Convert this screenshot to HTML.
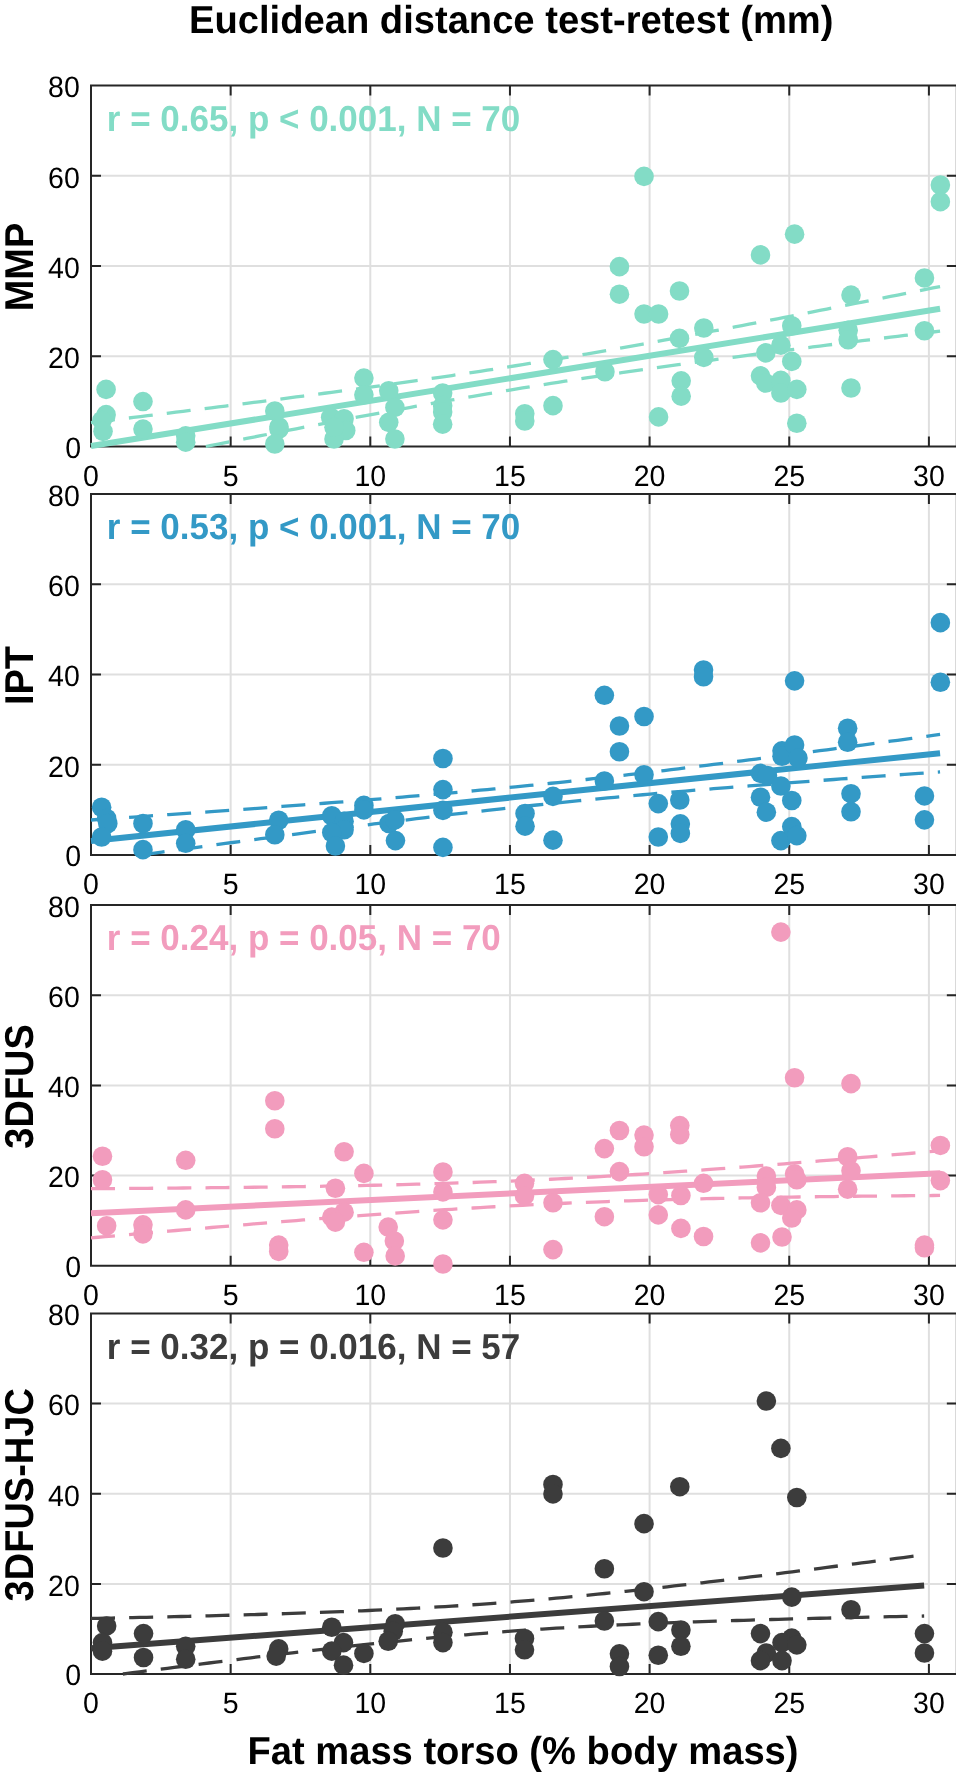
<!DOCTYPE html><html><head><meta charset="utf-8"><style>html,body{margin:0;padding:0;background:#fff;}svg{display:block;}#w{will-change:transform;}text{font-family:"Liberation Sans",sans-serif;text-rendering:geometricPrecision;}</style></head><body>
<div id="w">
<svg width="956" height="1778" viewBox="0 0 956 1778">
<rect width="956" height="1778" fill="#fff"/>
<text transform="translate(511.25,33) scale(1.0,1.02)" font-size="38.15" font-weight="bold" text-anchor="middle" fill="#000">Euclidean distance test-retest (mm)</text>
<text transform="translate(523,1764) scale(1.0,1.02)" font-size="38.15" font-weight="bold" text-anchor="middle" fill="#000">Fat mass torso (% body mass)</text>
<text transform="translate(33,267) rotate(-90) scale(1.0,1.06)" font-size="38" font-weight="bold" text-anchor="middle" fill="#000">MMP</text>
<path d="M230.65 85.5V446.5M370.3 85.5V446.5M509.95 85.5V446.5M649.6 85.5V446.5M789.25 85.5V446.5M928.9 85.5V446.5M91 356.25H956.83M91 266H956.83M91 175.75H956.83" stroke="#dfdfdf" stroke-width="2.0" fill="none"/>
<text transform="translate(106.8,130.5) scale(1.0,1.03)" font-size="35" font-weight="bold" fill="#83dcc6">r = 0.65, p &lt; 0.001, N = 70</text>
<path d="M91 85.5H956.83V446.5H91ZM230.65 446.5v-9.0M230.65 85.5v9.0M370.3 446.5v-9.0M370.3 85.5v9.0M509.95 446.5v-9.0M509.95 85.5v9.0M649.6 446.5v-9.0M649.6 85.5v9.0M789.25 446.5v-9.0M789.25 85.5v9.0M928.9 446.5v-9.0M928.9 85.5v9.0M91 356.25h9.0M956.83 356.25h-9.0M91 266h9.0M956.83 266h-9.0M91 175.75h9.0M956.83 175.75h-9.0M956.83 85.5h-9.0M956.83 446.5h-9.0M91 85.5h9.0M91 446.5h9.0" stroke="#262626" stroke-width="2.0" fill="none" stroke-linecap="square"/>
<text transform="translate(81,457.5) scale(1.0,1.035)" font-size="28.5" text-anchor="end" fill="#000">0</text>
<text transform="translate(79.8,368.05) scale(1.0,1.035)" font-size="28.5" text-anchor="end" fill="#000">20</text>
<text transform="translate(79.8,277.8) scale(1.0,1.035)" font-size="28.5" text-anchor="end" fill="#000">40</text>
<text transform="translate(79.8,187.55) scale(1.0,1.035)" font-size="28.5" text-anchor="end" fill="#000">60</text>
<text transform="translate(79.8,97.3) scale(1.0,1.035)" font-size="28.5" text-anchor="end" fill="#000">80</text>
<text transform="translate(91,485.5) scale(1.0,1.035)" font-size="28.5" text-anchor="middle" fill="#000">0</text>
<text transform="translate(230.65,485.5) scale(1.0,1.035)" font-size="28.5" text-anchor="middle" fill="#000">5</text>
<text transform="translate(370.3,485.5) scale(1.0,1.035)" font-size="28.5" text-anchor="middle" fill="#000">10</text>
<text transform="translate(509.95,485.5) scale(1.0,1.035)" font-size="28.5" text-anchor="middle" fill="#000">15</text>
<text transform="translate(649.6,485.5) scale(1.0,1.035)" font-size="28.5" text-anchor="middle" fill="#000">20</text>
<text transform="translate(789.25,485.5) scale(1.0,1.035)" font-size="28.5" text-anchor="middle" fill="#000">25</text>
<text transform="translate(928.9,485.5) scale(1.0,1.035)" font-size="28.5" text-anchor="middle" fill="#000">30</text>
<path d="M91 446.05L940.07 308.83" stroke="#83dcc6" stroke-width="6.0" fill="none"/>
<path d="M91 422.62L98.08 421.76L105.15 420.9L112.23 420.04L119.3 419.17L126.38 418.31L133.45 417.44L140.53 416.57L147.6 415.71L154.68 414.83L161.76 413.96L168.83 413.09L175.91 412.21L182.98 411.33L190.06 410.45L197.13 409.57L204.21 408.69L211.29 407.8L218.36 406.92L225.44 406.03L232.51 405.13L239.59 404.24L246.66 403.34L253.74 402.44L260.81 401.54L267.89 400.63L274.97 399.72L282.04 398.81L289.12 397.9L296.19 396.98L303.27 396.05L310.34 395.13L317.42 394.2L324.49 393.26L331.57 392.32L338.65 391.38L345.72 390.43L352.8 389.48L359.87 388.52L366.95 387.56L374.02 386.59L381.1 385.61L388.18 384.63L395.25 383.65L402.33 382.66L409.4 381.66L416.48 380.65L423.55 379.64L430.63 378.62L437.7 377.59L444.78 376.56L451.86 375.51L458.93 374.46L466.01 373.4L473.08 372.34L480.16 371.26L487.23 370.18L494.31 369.08L501.38 367.98L508.46 366.87L515.54 365.75L522.61 364.62L529.69 363.48L536.76 362.33L543.84 361.17L550.91 360.01L557.99 358.83L565.07 357.65L572.14 356.45L579.22 355.25L586.29 354.04L593.37 352.82L600.44 351.59L607.52 350.36L614.59 349.11L621.67 347.86L628.75 346.6L635.82 345.34L642.9 344.06L649.97 342.78L657.05 341.49L664.12 340.2L671.2 338.9L678.27 337.59L685.35 336.28L692.43 334.96L699.5 333.64L706.58 332.31L713.65 330.97L720.73 329.64L727.8 328.29L734.88 326.94L741.96 325.59L749.03 324.23L756.11 322.87L763.18 321.51L770.26 320.14L777.33 318.77L784.41 317.4L791.48 316.02L798.56 314.64L805.64 313.25L812.71 311.87L819.79 310.48L826.86 309.09L833.94 307.69L841.01 306.29L848.09 304.9L855.16 303.49L862.24 302.09L869.32 300.68L876.39 299.28L883.47 297.87L890.54 296.46L897.62 295.04L904.69 293.63L911.77 292.21L918.85 290.8L925.92 289.38L933 287.96L940.07 286.53" stroke="#83dcc6" stroke-width="3.3" stroke-dasharray="24.0 14.17" fill="none"/>
<path d="M205.8 446.5L211.29 445.41L218.36 444.01L225.44 442.62L232.51 441.22L239.59 439.83L246.66 438.44L253.74 437.05L260.81 435.67L267.89 434.29L274.97 432.91L282.04 431.54L289.12 430.17L296.19 428.8L303.27 427.43L310.34 426.07L317.42 424.72L324.49 423.36L331.57 422.02L338.65 420.67L345.72 419.33L352.8 418L359.87 416.67L366.95 415.35L374.02 414.03L381.1 412.71L388.18 411.41L395.25 410.11L402.33 408.81L409.4 407.52L416.48 406.24L423.55 404.97L430.63 403.7L437.7 402.44L444.78 401.19L451.86 399.95L458.93 398.71L466.01 397.48L473.08 396.26L480.16 395.05L487.23 393.85L494.31 392.66L501.38 391.47L508.46 390.29L515.54 389.13L522.61 387.97L529.69 386.82L536.76 385.68L543.84 384.55L550.91 383.43L557.99 382.32L565.07 381.22L572.14 380.13L579.22 379.04L586.29 377.96L593.37 376.9L600.44 375.84L607.52 374.79L614.59 373.74L621.67 372.71L628.75 371.68L635.82 370.66L642.9 369.65L649.97 368.64L657.05 367.64L664.12 366.65L671.2 365.66L678.27 364.68L685.35 363.71L692.43 362.74L699.5 361.78L706.58 360.82L713.65 359.87L720.73 358.92L727.8 357.97L734.88 357.04L741.96 356.1L749.03 355.17L756.11 354.24L763.18 353.32L770.26 352.4L777.33 351.49L784.41 350.57L791.48 349.66L798.56 348.76L805.64 347.85L812.71 346.95L819.79 346.06L826.86 345.16L833.94 344.27L841.01 343.38L848.09 342.49L855.16 341.61L862.24 340.72L869.32 339.84L876.39 338.96L883.47 338.08L890.54 337.21L897.62 336.33L904.69 335.46L911.77 334.59L918.85 333.72L925.92 332.85L933 331.99L940.07 331.12" stroke="#83dcc6" stroke-width="3.3" stroke-dasharray="24.0 14.17" fill="none"/>
<circle cx="106.1" cy="389.39" r="9.8" fill="#83dcc6"/>
<circle cx="106.1" cy="414.66" r="9.8" fill="#83dcc6"/>
<circle cx="101.91" cy="420.53" r="9.8" fill="#83dcc6"/>
<circle cx="103.03" cy="431.36" r="9.8" fill="#83dcc6"/>
<circle cx="142.97" cy="401.57" r="9.8" fill="#83dcc6"/>
<circle cx="142.97" cy="429.1" r="9.8" fill="#83dcc6"/>
<circle cx="185.7" cy="435.87" r="9.8" fill="#83dcc6"/>
<circle cx="185.7" cy="442.19" r="9.8" fill="#83dcc6"/>
<circle cx="274.8" cy="411.05" r="9.8" fill="#83dcc6"/>
<circle cx="278.99" cy="426.84" r="9.8" fill="#83dcc6"/>
<circle cx="278.99" cy="429.1" r="9.8" fill="#83dcc6"/>
<circle cx="274.8" cy="443.99" r="9.8" fill="#83dcc6"/>
<circle cx="330.66" cy="417.37" r="9.8" fill="#83dcc6"/>
<circle cx="344.07" cy="418.72" r="9.8" fill="#83dcc6"/>
<circle cx="345.74" cy="430.45" r="9.8" fill="#83dcc6"/>
<circle cx="334.01" cy="439.03" r="9.8" fill="#83dcc6"/>
<circle cx="334.01" cy="427.3" r="9.8" fill="#83dcc6"/>
<circle cx="363.9" cy="378.11" r="9.8" fill="#83dcc6"/>
<circle cx="363.9" cy="394.81" r="9.8" fill="#83dcc6"/>
<circle cx="388.75" cy="390.75" r="9.8" fill="#83dcc6"/>
<circle cx="394.9" cy="407.44" r="9.8" fill="#83dcc6"/>
<circle cx="388.75" cy="422.33" r="9.8" fill="#83dcc6"/>
<circle cx="394.9" cy="439.03" r="9.8" fill="#83dcc6"/>
<circle cx="442.66" cy="393" r="9.8" fill="#83dcc6"/>
<circle cx="442.66" cy="405.64" r="9.8" fill="#83dcc6"/>
<circle cx="442.66" cy="411.95" r="9.8" fill="#83dcc6"/>
<circle cx="442.66" cy="424.14" r="9.8" fill="#83dcc6"/>
<circle cx="524.77" cy="413.76" r="9.8" fill="#83dcc6"/>
<circle cx="524.77" cy="420.98" r="9.8" fill="#83dcc6"/>
<circle cx="552.98" cy="359.61" r="9.8" fill="#83dcc6"/>
<circle cx="552.98" cy="405.64" r="9.8" fill="#83dcc6"/>
<circle cx="604.93" cy="371.79" r="9.8" fill="#83dcc6"/>
<circle cx="619.46" cy="266.65" r="9.8" fill="#83dcc6"/>
<circle cx="619.46" cy="294.18" r="9.8" fill="#83dcc6"/>
<circle cx="644.03" cy="176.4" r="9.8" fill="#83dcc6"/>
<circle cx="644.03" cy="314.03" r="9.8" fill="#83dcc6"/>
<circle cx="658.56" cy="314.03" r="9.8" fill="#83dcc6"/>
<circle cx="658.56" cy="416.92" r="9.8" fill="#83dcc6"/>
<circle cx="679.51" cy="291.02" r="9.8" fill="#83dcc6"/>
<circle cx="679.51" cy="338.4" r="9.8" fill="#83dcc6"/>
<circle cx="681.18" cy="380.82" r="9.8" fill="#83dcc6"/>
<circle cx="681.18" cy="396.16" r="9.8" fill="#83dcc6"/>
<circle cx="703.8" cy="328.02" r="9.8" fill="#83dcc6"/>
<circle cx="703.8" cy="357.35" r="9.8" fill="#83dcc6"/>
<circle cx="760.5" cy="254.92" r="9.8" fill="#83dcc6"/>
<circle cx="760.5" cy="375.85" r="9.8" fill="#83dcc6"/>
<circle cx="765.81" cy="352.84" r="9.8" fill="#83dcc6"/>
<circle cx="765.81" cy="383.07" r="9.8" fill="#83dcc6"/>
<circle cx="780.89" cy="345.17" r="9.8" fill="#83dcc6"/>
<circle cx="780.89" cy="380.37" r="9.8" fill="#83dcc6"/>
<circle cx="780.89" cy="393" r="9.8" fill="#83dcc6"/>
<circle cx="791.78" cy="325.76" r="9.8" fill="#83dcc6"/>
<circle cx="791.78" cy="361.41" r="9.8" fill="#83dcc6"/>
<circle cx="794.58" cy="234.16" r="9.8" fill="#83dcc6"/>
<circle cx="796.81" cy="389.39" r="9.8" fill="#83dcc6"/>
<circle cx="796.81" cy="423.23" r="9.8" fill="#83dcc6"/>
<circle cx="851" cy="295.08" r="9.8" fill="#83dcc6"/>
<circle cx="848.2" cy="330.28" r="9.8" fill="#83dcc6"/>
<circle cx="848.2" cy="339.75" r="9.8" fill="#83dcc6"/>
<circle cx="851" cy="388.04" r="9.8" fill="#83dcc6"/>
<circle cx="924.45" cy="277.93" r="9.8" fill="#83dcc6"/>
<circle cx="924.45" cy="330.73" r="9.8" fill="#83dcc6"/>
<circle cx="940.37" cy="184.97" r="9.8" fill="#83dcc6"/>
<circle cx="940.37" cy="201.67" r="9.8" fill="#83dcc6"/>
<text transform="translate(33,675.5) rotate(-90) scale(1.0,1.06)" font-size="38" font-weight="bold" text-anchor="middle" fill="#000">IPT</text>
<path d="M230.65 494V855M370.3 494V855M509.95 494V855M649.6 494V855M789.25 494V855M928.9 494V855M91 764.75H956.83M91 674.5H956.83M91 584.25H956.83" stroke="#dfdfdf" stroke-width="2.0" fill="none"/>
<text transform="translate(106.8,539) scale(1.0,1.03)" font-size="35" font-weight="bold" fill="#3399c6">r = 0.53, p &lt; 0.001, N = 70</text>
<path d="M91 494H956.83V855H91ZM230.65 855v-9.0M230.65 494v9.0M370.3 855v-9.0M370.3 494v9.0M509.95 855v-9.0M509.95 494v9.0M649.6 855v-9.0M649.6 494v9.0M789.25 855v-9.0M789.25 494v9.0M928.9 855v-9.0M928.9 494v9.0M91 764.75h9.0M956.83 764.75h-9.0M91 674.5h9.0M956.83 674.5h-9.0M91 584.25h9.0M956.83 584.25h-9.0M956.83 494h-9.0M956.83 855h-9.0M91 494h9.0M91 855h9.0" stroke="#262626" stroke-width="2.0" fill="none" stroke-linecap="square"/>
<text transform="translate(81,866) scale(1.0,1.035)" font-size="28.5" text-anchor="end" fill="#000">0</text>
<text transform="translate(79.8,776.55) scale(1.0,1.035)" font-size="28.5" text-anchor="end" fill="#000">20</text>
<text transform="translate(79.8,686.3) scale(1.0,1.035)" font-size="28.5" text-anchor="end" fill="#000">40</text>
<text transform="translate(79.8,596.05) scale(1.0,1.035)" font-size="28.5" text-anchor="end" fill="#000">60</text>
<text transform="translate(79.8,505.8) scale(1.0,1.035)" font-size="28.5" text-anchor="end" fill="#000">80</text>
<text transform="translate(91,894) scale(1.0,1.035)" font-size="28.5" text-anchor="middle" fill="#000">0</text>
<text transform="translate(230.65,894) scale(1.0,1.035)" font-size="28.5" text-anchor="middle" fill="#000">5</text>
<text transform="translate(370.3,894) scale(1.0,1.035)" font-size="28.5" text-anchor="middle" fill="#000">10</text>
<text transform="translate(509.95,894) scale(1.0,1.035)" font-size="28.5" text-anchor="middle" fill="#000">15</text>
<text transform="translate(649.6,894) scale(1.0,1.035)" font-size="28.5" text-anchor="middle" fill="#000">20</text>
<text transform="translate(789.25,894) scale(1.0,1.035)" font-size="28.5" text-anchor="middle" fill="#000">25</text>
<text transform="translate(928.9,894) scale(1.0,1.035)" font-size="28.5" text-anchor="middle" fill="#000">30</text>
<path d="M91 840.92L940.07 753.19" stroke="#3399c6" stroke-width="6.0" fill="none"/>
<path d="M91 819.98L98.08 819.49L105.15 819.01L112.23 818.52L119.3 818.04L126.38 817.55L133.45 817.06L140.53 816.57L147.6 816.08L154.68 815.59L161.76 815.1L168.83 814.6L175.91 814.11L182.98 813.61L190.06 813.11L197.13 812.61L204.21 812.11L211.29 811.61L218.36 811.1L225.44 810.6L232.51 810.09L239.59 809.58L246.66 809.07L253.74 808.55L260.81 808.03L267.89 807.52L274.97 806.99L282.04 806.47L289.12 805.94L296.19 805.41L303.27 804.88L310.34 804.35L317.42 803.81L324.49 803.27L331.57 802.72L338.65 802.17L345.72 801.62L352.8 801.07L359.87 800.51L366.95 799.94L374.02 799.37L381.1 798.8L388.18 798.23L395.25 797.64L402.33 797.06L409.4 796.46L416.48 795.87L423.55 795.26L430.63 794.66L437.7 794.04L444.78 793.42L451.86 792.79L458.93 792.16L466.01 791.52L473.08 790.87L480.16 790.22L487.23 789.56L494.31 788.89L501.38 788.21L508.46 787.53L515.54 786.84L522.61 786.14L529.69 785.43L536.76 784.71L543.84 783.99L550.91 783.26L557.99 782.52L565.07 781.78L572.14 781.02L579.22 780.26L586.29 779.49L593.37 778.71L600.44 777.93L607.52 777.13L614.59 776.33L621.67 775.53L628.75 774.71L635.82 773.89L642.9 773.06L649.97 772.23L657.05 771.39L664.12 770.54L671.2 769.69L678.27 768.83L685.35 767.96L692.43 767.09L699.5 766.22L706.58 765.34L713.65 764.46L720.73 763.57L727.8 762.67L734.88 761.77L741.96 760.87L749.03 759.97L756.11 759.06L763.18 758.14L770.26 757.23L777.33 756.3L784.41 755.38L791.48 754.45L798.56 753.52L805.64 752.59L812.71 751.66L819.79 750.72L826.86 749.78L833.94 748.84L841.01 747.89L848.09 746.94L855.16 745.99L862.24 745.04L869.32 744.09L876.39 743.13L883.47 742.18L890.54 741.22L897.62 740.26L904.69 739.3L911.77 738.33L918.85 737.37L925.92 736.4L933 735.43L940.07 734.46" stroke="#3399c6" stroke-width="3.3" stroke-dasharray="24.0 14.17" fill="none"/>
<path d="M140.77 855L147.6 854.06L154.68 853.09L161.76 852.12L168.83 851.15L175.91 850.19L182.98 849.22L190.06 848.26L197.13 847.3L204.21 846.34L211.29 845.38L218.36 844.42L225.44 843.46L232.51 842.51L239.59 841.56L246.66 840.61L253.74 839.66L260.81 838.72L267.89 837.77L274.97 836.83L282.04 835.9L289.12 834.96L296.19 834.03L303.27 833.1L310.34 832.17L317.42 831.25L324.49 830.33L331.57 829.41L338.65 828.49L345.72 827.58L352.8 826.68L359.87 825.78L366.95 824.88L374.02 823.98L381.1 823.09L388.18 822.21L395.25 821.33L402.33 820.45L409.4 819.58L416.48 818.72L423.55 817.86L430.63 817.01L437.7 816.16L444.78 815.32L451.86 814.48L458.93 813.65L466.01 812.83L473.08 812.02L480.16 811.21L487.23 810.41L494.31 809.61L501.38 808.83L508.46 808.05L515.54 807.28L522.61 806.52L529.69 805.76L536.76 805.01L543.84 804.28L550.91 803.54L557.99 802.82L565.07 802.1L572.14 801.4L579.22 800.7L586.29 800.01L593.37 799.32L600.44 798.64L607.52 797.98L614.59 797.31L621.67 796.66L628.75 796.01L635.82 795.37L642.9 794.74L649.97 794.11L657.05 793.49L664.12 792.87L671.2 792.26L678.27 791.66L685.35 791.06L692.43 790.47L699.5 789.88L706.58 789.3L713.65 788.72L720.73 788.15L727.8 787.58L734.88 787.02L741.96 786.46L749.03 785.9L756.11 785.35L763.18 784.8L770.26 784.25L777.33 783.71L784.41 783.17L791.48 782.64L798.56 782.11L805.64 781.58L812.71 781.05L819.79 780.53L826.86 780L833.94 779.48L841.01 778.97L848.09 778.45L855.16 777.94L862.24 777.43L869.32 776.92L876.39 776.41L883.47 775.91L890.54 775.41L897.62 774.9L904.69 774.4L911.77 773.91L918.85 773.41L925.92 772.91L933 772.42L940.07 771.93" stroke="#3399c6" stroke-width="3.3" stroke-dasharray="24.0 14.17" fill="none"/>
<circle cx="101.63" cy="807.22" r="9.8" fill="#3399c6"/>
<circle cx="106.66" cy="818.5" r="9.8" fill="#3399c6"/>
<circle cx="107.78" cy="823.46" r="9.8" fill="#3399c6"/>
<circle cx="101.63" cy="837" r="9.8" fill="#3399c6"/>
<circle cx="142.97" cy="823.46" r="9.8" fill="#3399c6"/>
<circle cx="142.97" cy="849.63" r="9.8" fill="#3399c6"/>
<circle cx="185.7" cy="829.78" r="9.8" fill="#3399c6"/>
<circle cx="185.7" cy="843.32" r="9.8" fill="#3399c6"/>
<circle cx="278.71" cy="820.3" r="9.8" fill="#3399c6"/>
<circle cx="274.8" cy="834.74" r="9.8" fill="#3399c6"/>
<circle cx="331.78" cy="815.79" r="9.8" fill="#3399c6"/>
<circle cx="344.07" cy="821.21" r="9.8" fill="#3399c6"/>
<circle cx="344.07" cy="829.78" r="9.8" fill="#3399c6"/>
<circle cx="331.78" cy="832.49" r="9.8" fill="#3399c6"/>
<circle cx="335.41" cy="846.02" r="9.8" fill="#3399c6"/>
<circle cx="363.9" cy="805.41" r="9.8" fill="#3399c6"/>
<circle cx="363.9" cy="809.92" r="9.8" fill="#3399c6"/>
<circle cx="389.03" cy="823.46" r="9.8" fill="#3399c6"/>
<circle cx="394.9" cy="819.85" r="9.8" fill="#3399c6"/>
<circle cx="395.46" cy="840.61" r="9.8" fill="#3399c6"/>
<circle cx="442.94" cy="758.48" r="9.8" fill="#3399c6"/>
<circle cx="442.94" cy="789.62" r="9.8" fill="#3399c6"/>
<circle cx="442.94" cy="810.38" r="9.8" fill="#3399c6"/>
<circle cx="442.94" cy="847.38" r="9.8" fill="#3399c6"/>
<circle cx="525.05" cy="813.53" r="9.8" fill="#3399c6"/>
<circle cx="525.05" cy="826.17" r="9.8" fill="#3399c6"/>
<circle cx="552.98" cy="796.39" r="9.8" fill="#3399c6"/>
<circle cx="552.98" cy="840.16" r="9.8" fill="#3399c6"/>
<circle cx="604.37" cy="695.31" r="9.8" fill="#3399c6"/>
<circle cx="604.37" cy="781.04" r="9.8" fill="#3399c6"/>
<circle cx="619.46" cy="725.99" r="9.8" fill="#3399c6"/>
<circle cx="619.46" cy="751.71" r="9.8" fill="#3399c6"/>
<circle cx="644.03" cy="716.51" r="9.8" fill="#3399c6"/>
<circle cx="644.03" cy="774.73" r="9.8" fill="#3399c6"/>
<circle cx="658.28" cy="803.61" r="9.8" fill="#3399c6"/>
<circle cx="658.28" cy="837" r="9.8" fill="#3399c6"/>
<circle cx="679.79" cy="800" r="9.8" fill="#3399c6"/>
<circle cx="680.34" cy="823.91" r="9.8" fill="#3399c6"/>
<circle cx="680.34" cy="833.39" r="9.8" fill="#3399c6"/>
<circle cx="703.53" cy="670.04" r="9.8" fill="#3399c6"/>
<circle cx="703.53" cy="676.8" r="9.8" fill="#3399c6"/>
<circle cx="760.5" cy="773.37" r="9.8" fill="#3399c6"/>
<circle cx="767.49" cy="775.63" r="9.8" fill="#3399c6"/>
<circle cx="760.5" cy="797.29" r="9.8" fill="#3399c6"/>
<circle cx="766.37" cy="812.18" r="9.8" fill="#3399c6"/>
<circle cx="782.01" cy="750.81" r="9.8" fill="#3399c6"/>
<circle cx="782.01" cy="756.23" r="9.8" fill="#3399c6"/>
<circle cx="780.89" cy="786.01" r="9.8" fill="#3399c6"/>
<circle cx="780.89" cy="840.61" r="9.8" fill="#3399c6"/>
<circle cx="794.58" cy="744.94" r="9.8" fill="#3399c6"/>
<circle cx="797.93" cy="758.03" r="9.8" fill="#3399c6"/>
<circle cx="791.78" cy="800.45" r="9.8" fill="#3399c6"/>
<circle cx="791.78" cy="826.62" r="9.8" fill="#3399c6"/>
<circle cx="796.81" cy="835.64" r="9.8" fill="#3399c6"/>
<circle cx="794.58" cy="680.87" r="9.8" fill="#3399c6"/>
<circle cx="847.64" cy="728.25" r="9.8" fill="#3399c6"/>
<circle cx="847.64" cy="742.24" r="9.8" fill="#3399c6"/>
<circle cx="851" cy="793.68" r="9.8" fill="#3399c6"/>
<circle cx="851" cy="811.73" r="9.8" fill="#3399c6"/>
<circle cx="924.45" cy="795.93" r="9.8" fill="#3399c6"/>
<circle cx="924.45" cy="819.85" r="9.8" fill="#3399c6"/>
<circle cx="940.37" cy="622.65" r="9.8" fill="#3399c6"/>
<circle cx="940.37" cy="682.22" r="9.8" fill="#3399c6"/>
<text transform="translate(33,1086.4) rotate(-90) scale(1.0,1.06)" font-size="38" font-weight="bold" text-anchor="middle" fill="#000">3DFUS</text>
<path d="M230.65 905V1265.8M370.3 905V1265.8M509.95 905V1265.8M649.6 905V1265.8M789.25 905V1265.8M928.9 905V1265.8M91 1175.6H956.83M91 1085.4H956.83M91 995.2H956.83" stroke="#dfdfdf" stroke-width="2.0" fill="none"/>
<text transform="translate(106.8,950) scale(1.0,1.03)" font-size="35" font-weight="bold" fill="#f29cbd">r = 0.24, p = 0.05, N = 70</text>
<path d="M91 905H956.83V1265.8H91ZM230.65 1265.8v-9.0M230.65 905v9.0M370.3 1265.8v-9.0M370.3 905v9.0M509.95 1265.8v-9.0M509.95 905v9.0M649.6 1265.8v-9.0M649.6 905v9.0M789.25 1265.8v-9.0M789.25 905v9.0M928.9 1265.8v-9.0M928.9 905v9.0M91 1175.6h9.0M956.83 1175.6h-9.0M91 1085.4h9.0M956.83 1085.4h-9.0M91 995.2h9.0M956.83 995.2h-9.0M956.83 905h-9.0M956.83 1265.8h-9.0M91 905h9.0M91 1265.8h9.0" stroke="#262626" stroke-width="2.0" fill="none" stroke-linecap="square"/>
<text transform="translate(81,1276.8) scale(1.0,1.035)" font-size="28.5" text-anchor="end" fill="#000">0</text>
<text transform="translate(79.8,1187.4) scale(1.0,1.035)" font-size="28.5" text-anchor="end" fill="#000">20</text>
<text transform="translate(79.8,1097.2) scale(1.0,1.035)" font-size="28.5" text-anchor="end" fill="#000">40</text>
<text transform="translate(79.8,1007) scale(1.0,1.035)" font-size="28.5" text-anchor="end" fill="#000">60</text>
<text transform="translate(79.8,916.8) scale(1.0,1.035)" font-size="28.5" text-anchor="end" fill="#000">80</text>
<text transform="translate(91,1304.8) scale(1.0,1.035)" font-size="28.5" text-anchor="middle" fill="#000">0</text>
<text transform="translate(230.65,1304.8) scale(1.0,1.035)" font-size="28.5" text-anchor="middle" fill="#000">5</text>
<text transform="translate(370.3,1304.8) scale(1.0,1.035)" font-size="28.5" text-anchor="middle" fill="#000">10</text>
<text transform="translate(509.95,1304.8) scale(1.0,1.035)" font-size="28.5" text-anchor="middle" fill="#000">15</text>
<text transform="translate(649.6,1304.8) scale(1.0,1.035)" font-size="28.5" text-anchor="middle" fill="#000">20</text>
<text transform="translate(789.25,1304.8) scale(1.0,1.035)" font-size="28.5" text-anchor="middle" fill="#000">25</text>
<text transform="translate(928.9,1304.8) scale(1.0,1.035)" font-size="28.5" text-anchor="middle" fill="#000">30</text>
<path d="M91 1213.3L940.07 1173.13" stroke="#f29cbd" stroke-width="6.0" fill="none"/>
<path d="M91 1188.72L98.08 1188.68L105.15 1188.63L112.23 1188.58L119.3 1188.53L126.38 1188.47L133.45 1188.42L140.53 1188.36L147.6 1188.31L154.68 1188.25L161.76 1188.19L168.83 1188.13L175.91 1188.06L182.98 1188L190.06 1187.93L197.13 1187.87L204.21 1187.79L211.29 1187.72L218.36 1187.65L225.44 1187.57L232.51 1187.49L239.59 1187.41L246.66 1187.33L253.74 1187.24L260.81 1187.15L267.89 1187.06L274.97 1186.96L282.04 1186.86L289.12 1186.76L296.19 1186.66L303.27 1186.55L310.34 1186.44L317.42 1186.32L324.49 1186.2L331.57 1186.08L338.65 1185.95L345.72 1185.82L352.8 1185.68L359.87 1185.54L366.95 1185.4L374.02 1185.25L381.1 1185.09L388.18 1184.93L395.25 1184.76L402.33 1184.58L409.4 1184.4L416.48 1184.22L423.55 1184.03L430.63 1183.83L437.7 1183.62L444.78 1183.41L451.86 1183.19L458.93 1182.96L466.01 1182.72L473.08 1182.48L480.16 1182.22L487.23 1181.96L494.31 1181.69L501.38 1181.42L508.46 1181.13L515.54 1180.84L522.61 1180.53L529.69 1180.22L536.76 1179.9L543.84 1179.57L550.91 1179.23L557.99 1178.88L565.07 1178.52L572.14 1178.16L579.22 1177.78L586.29 1177.4L593.37 1177.01L600.44 1176.61L607.52 1176.2L614.59 1175.78L621.67 1175.35L628.75 1174.92L635.82 1174.48L642.9 1174.03L649.97 1173.57L657.05 1173.11L664.12 1172.64L671.2 1172.16L678.27 1171.68L685.35 1171.19L692.43 1170.69L699.5 1170.19L706.58 1169.68L713.65 1169.17L720.73 1168.65L727.8 1168.13L734.88 1167.6L741.96 1167.07L749.03 1166.53L756.11 1165.99L763.18 1165.44L770.26 1164.89L777.33 1164.34L784.41 1163.78L791.48 1163.22L798.56 1162.65L805.64 1162.09L812.71 1161.51L819.79 1160.94L826.86 1160.36L833.94 1159.78L841.01 1159.2L848.09 1158.61L855.16 1158.03L862.24 1157.44L869.32 1156.84L876.39 1156.25L883.47 1155.65L890.54 1155.05L897.62 1154.45L904.69 1153.85L911.77 1153.24L918.85 1152.64L925.92 1152.03L933 1151.42L940.07 1150.81" stroke="#f29cbd" stroke-width="3.3" stroke-dasharray="24.0 14.17" fill="none"/>
<path d="M91 1237.88L98.08 1237.26L105.15 1236.64L112.23 1236.02L119.3 1235.4L126.38 1234.79L133.45 1234.17L140.53 1233.56L147.6 1232.94L154.68 1232.33L161.76 1231.72L168.83 1231.11L175.91 1230.51L182.98 1229.9L190.06 1229.3L197.13 1228.7L204.21 1228.1L211.29 1227.5L218.36 1226.91L225.44 1226.32L232.51 1225.73L239.59 1225.14L246.66 1224.55L253.74 1223.97L260.81 1223.39L267.89 1222.81L274.97 1222.24L282.04 1221.67L289.12 1221.1L296.19 1220.53L303.27 1219.97L310.34 1219.41L317.42 1218.86L324.49 1218.31L331.57 1217.76L338.65 1217.22L345.72 1216.68L352.8 1216.15L359.87 1215.62L366.95 1215.1L374.02 1214.58L381.1 1214.07L388.18 1213.56L395.25 1213.06L402.33 1212.56L409.4 1212.07L416.48 1211.59L423.55 1211.11L430.63 1210.64L437.7 1210.18L444.78 1209.72L451.86 1209.28L458.93 1208.84L466.01 1208.4L473.08 1207.98L480.16 1207.56L487.23 1207.15L494.31 1206.75L501.38 1206.36L508.46 1205.97L515.54 1205.6L522.61 1205.23L529.69 1204.88L536.76 1204.53L543.84 1204.19L550.91 1203.86L557.99 1203.54L565.07 1203.23L572.14 1202.92L579.22 1202.63L586.29 1202.34L593.37 1202.06L600.44 1201.8L607.52 1201.54L614.59 1201.28L621.67 1201.04L628.75 1200.8L635.82 1200.58L642.9 1200.35L649.97 1200.14L657.05 1199.93L664.12 1199.74L671.2 1199.54L678.27 1199.36L685.35 1199.18L692.43 1199L699.5 1198.84L706.58 1198.67L713.65 1198.52L720.73 1198.37L727.8 1198.22L734.88 1198.08L741.96 1197.94L749.03 1197.81L756.11 1197.68L763.18 1197.56L770.26 1197.44L777.33 1197.33L784.41 1197.21L791.48 1197.11L798.56 1197L805.64 1196.9L812.71 1196.8L819.79 1196.71L826.86 1196.61L833.94 1196.53L841.01 1196.44L848.09 1196.35L855.16 1196.27L862.24 1196.19L869.32 1196.12L876.39 1196.04L883.47 1195.97L890.54 1195.9L897.62 1195.83L904.69 1195.76L911.77 1195.7L918.85 1195.64L925.92 1195.58L933 1195.52L940.07 1195.46" stroke="#f29cbd" stroke-width="3.3" stroke-dasharray="24.0 14.17" fill="none"/>
<circle cx="102.47" cy="1156.26" r="9.8" fill="#f29cbd"/>
<circle cx="102.47" cy="1179.71" r="9.8" fill="#f29cbd"/>
<circle cx="106.66" cy="1225.71" r="9.8" fill="#f29cbd"/>
<circle cx="142.97" cy="1224.81" r="9.8" fill="#f29cbd"/>
<circle cx="142.97" cy="1233.83" r="9.8" fill="#f29cbd"/>
<circle cx="185.7" cy="1160.32" r="9.8" fill="#f29cbd"/>
<circle cx="185.7" cy="1209.92" r="9.8" fill="#f29cbd"/>
<circle cx="274.8" cy="1100.78" r="9.8" fill="#f29cbd"/>
<circle cx="274.8" cy="1128.74" r="9.8" fill="#f29cbd"/>
<circle cx="278.71" cy="1245.1" r="9.8" fill="#f29cbd"/>
<circle cx="278.71" cy="1251.42" r="9.8" fill="#f29cbd"/>
<circle cx="344.07" cy="1151.75" r="9.8" fill="#f29cbd"/>
<circle cx="335.41" cy="1188.28" r="9.8" fill="#f29cbd"/>
<circle cx="344.07" cy="1212.18" r="9.8" fill="#f29cbd"/>
<circle cx="331.78" cy="1217.14" r="9.8" fill="#f29cbd"/>
<circle cx="335.41" cy="1222.1" r="9.8" fill="#f29cbd"/>
<circle cx="363.9" cy="1173.39" r="9.8" fill="#f29cbd"/>
<circle cx="363.9" cy="1252.32" r="9.8" fill="#f29cbd"/>
<circle cx="388.2" cy="1227.06" r="9.8" fill="#f29cbd"/>
<circle cx="394.34" cy="1241.04" r="9.8" fill="#f29cbd"/>
<circle cx="395.18" cy="1255.93" r="9.8" fill="#f29cbd"/>
<circle cx="442.94" cy="1172.04" r="9.8" fill="#f29cbd"/>
<circle cx="442.94" cy="1191.88" r="9.8" fill="#f29cbd"/>
<circle cx="442.94" cy="1219.85" r="9.8" fill="#f29cbd"/>
<circle cx="442.94" cy="1264.04" r="9.8" fill="#f29cbd"/>
<circle cx="524.49" cy="1183.32" r="9.8" fill="#f29cbd"/>
<circle cx="524.49" cy="1195.94" r="9.8" fill="#f29cbd"/>
<circle cx="552.98" cy="1202.71" r="9.8" fill="#f29cbd"/>
<circle cx="552.98" cy="1249.61" r="9.8" fill="#f29cbd"/>
<circle cx="619.46" cy="1130.55" r="9.8" fill="#f29cbd"/>
<circle cx="604.37" cy="1148.59" r="9.8" fill="#f29cbd"/>
<circle cx="619.46" cy="1171.59" r="9.8" fill="#f29cbd"/>
<circle cx="604.37" cy="1216.69" r="9.8" fill="#f29cbd"/>
<circle cx="644.03" cy="1135.06" r="9.8" fill="#f29cbd"/>
<circle cx="644.03" cy="1146.78" r="9.8" fill="#f29cbd"/>
<circle cx="658.28" cy="1194.59" r="9.8" fill="#f29cbd"/>
<circle cx="658.28" cy="1214.89" r="9.8" fill="#f29cbd"/>
<circle cx="679.79" cy="1125.59" r="9.8" fill="#f29cbd"/>
<circle cx="679.79" cy="1134.61" r="9.8" fill="#f29cbd"/>
<circle cx="680.9" cy="1195.49" r="9.8" fill="#f29cbd"/>
<circle cx="680.9" cy="1228.42" r="9.8" fill="#f29cbd"/>
<circle cx="703.53" cy="1183.32" r="9.8" fill="#f29cbd"/>
<circle cx="703.53" cy="1236.53" r="9.8" fill="#f29cbd"/>
<circle cx="766.37" cy="1176.1" r="9.8" fill="#f29cbd"/>
<circle cx="766.37" cy="1187.38" r="9.8" fill="#f29cbd"/>
<circle cx="760.5" cy="1202.71" r="9.8" fill="#f29cbd"/>
<circle cx="760.5" cy="1242.85" r="9.8" fill="#f29cbd"/>
<circle cx="780.89" cy="932.11" r="9.8" fill="#f29cbd"/>
<circle cx="780.89" cy="1205.41" r="9.8" fill="#f29cbd"/>
<circle cx="782.01" cy="1236.98" r="9.8" fill="#f29cbd"/>
<circle cx="794.58" cy="1077.78" r="9.8" fill="#f29cbd"/>
<circle cx="794.58" cy="1173.85" r="9.8" fill="#f29cbd"/>
<circle cx="796.81" cy="1179.71" r="9.8" fill="#f29cbd"/>
<circle cx="796.81" cy="1209.92" r="9.8" fill="#f29cbd"/>
<circle cx="791.78" cy="1218.04" r="9.8" fill="#f29cbd"/>
<circle cx="851" cy="1083.64" r="9.8" fill="#f29cbd"/>
<circle cx="847.64" cy="1156.71" r="9.8" fill="#f29cbd"/>
<circle cx="851" cy="1170.69" r="9.8" fill="#f29cbd"/>
<circle cx="847.64" cy="1189.18" r="9.8" fill="#f29cbd"/>
<circle cx="924.45" cy="1245.1" r="9.8" fill="#f29cbd"/>
<circle cx="924.45" cy="1247.81" r="9.8" fill="#f29cbd"/>
<circle cx="940.37" cy="1145.43" r="9.8" fill="#f29cbd"/>
<circle cx="940.37" cy="1180.61" r="9.8" fill="#f29cbd"/>
<text transform="translate(33,1494.75) rotate(-90) scale(1.0,1.06)" font-size="38" font-weight="bold" text-anchor="middle" fill="#000">3DFUS-HJC</text>
<path d="M230.65 1313.5V1674M370.3 1313.5V1674M509.95 1313.5V1674M649.6 1313.5V1674M789.25 1313.5V1674M928.9 1313.5V1674M91 1583.88H956.83M91 1493.75H956.83M91 1403.62H956.83" stroke="#dfdfdf" stroke-width="2.0" fill="none"/>
<text transform="translate(106.8,1358.5) scale(1.0,1.03)" font-size="35" font-weight="bold" fill="#3c3c3c">r = 0.32, p = 0.016, N = 57</text>
<path d="M91 1313.5H956.83V1674H91ZM230.65 1674v-9.0M230.65 1313.5v9.0M370.3 1674v-9.0M370.3 1313.5v9.0M509.95 1674v-9.0M509.95 1313.5v9.0M649.6 1674v-9.0M649.6 1313.5v9.0M789.25 1674v-9.0M789.25 1313.5v9.0M928.9 1674v-9.0M928.9 1313.5v9.0M91 1583.88h9.0M956.83 1583.88h-9.0M91 1493.75h9.0M956.83 1493.75h-9.0M91 1403.62h9.0M956.83 1403.62h-9.0M956.83 1313.5h-9.0M956.83 1674h-9.0M91 1313.5h9.0M91 1674h9.0" stroke="#262626" stroke-width="2.0" fill="none" stroke-linecap="square"/>
<text transform="translate(81,1685) scale(1.0,1.035)" font-size="28.5" text-anchor="end" fill="#000">0</text>
<text transform="translate(79.8,1595.67) scale(1.0,1.035)" font-size="28.5" text-anchor="end" fill="#000">20</text>
<text transform="translate(79.8,1505.55) scale(1.0,1.035)" font-size="28.5" text-anchor="end" fill="#000">40</text>
<text transform="translate(79.8,1415.42) scale(1.0,1.035)" font-size="28.5" text-anchor="end" fill="#000">60</text>
<text transform="translate(79.8,1325.3) scale(1.0,1.035)" font-size="28.5" text-anchor="end" fill="#000">80</text>
<text transform="translate(91,1713) scale(1.0,1.035)" font-size="28.5" text-anchor="middle" fill="#000">0</text>
<text transform="translate(230.65,1713) scale(1.0,1.035)" font-size="28.5" text-anchor="middle" fill="#000">5</text>
<text transform="translate(370.3,1713) scale(1.0,1.035)" font-size="28.5" text-anchor="middle" fill="#000">10</text>
<text transform="translate(509.95,1713) scale(1.0,1.035)" font-size="28.5" text-anchor="middle" fill="#000">15</text>
<text transform="translate(649.6,1713) scale(1.0,1.035)" font-size="28.5" text-anchor="middle" fill="#000">20</text>
<text transform="translate(789.25,1713) scale(1.0,1.035)" font-size="28.5" text-anchor="middle" fill="#000">25</text>
<text transform="translate(928.9,1713) scale(1.0,1.035)" font-size="28.5" text-anchor="middle" fill="#000">30</text>
<path d="M91 1648.31L924.15 1585.41" stroke="#3c3c3c" stroke-width="6.0" fill="none"/>
<path d="M91 1618.47L97.94 1618.33L104.89 1618.19L111.83 1618.05L118.77 1617.9L125.71 1617.75L132.66 1617.6L139.6 1617.45L146.54 1617.3L153.49 1617.14L160.43 1616.99L167.37 1616.83L174.32 1616.66L181.26 1616.5L188.2 1616.33L195.14 1616.16L202.09 1615.99L209.03 1615.81L215.97 1615.63L222.92 1615.45L229.86 1615.26L236.8 1615.07L243.74 1614.88L250.69 1614.68L257.63 1614.48L264.57 1614.27L271.52 1614.06L278.46 1613.85L285.4 1613.63L292.35 1613.4L299.29 1613.17L306.23 1612.94L313.17 1612.69L320.12 1612.44L327.06 1612.19L334 1611.93L340.95 1611.66L347.89 1611.38L354.83 1611.1L361.77 1610.81L368.72 1610.51L375.66 1610.2L382.6 1609.88L389.55 1609.55L396.49 1609.21L403.43 1608.87L410.37 1608.51L417.32 1608.14L424.26 1607.76L431.2 1607.37L438.15 1606.97L445.09 1606.55L452.03 1606.13L458.98 1605.69L465.92 1605.24L472.86 1604.77L479.8 1604.29L486.75 1603.8L493.69 1603.3L500.63 1602.78L507.58 1602.25L514.52 1601.71L521.46 1601.15L528.4 1600.58L535.35 1600L542.29 1599.4L549.23 1598.79L556.18 1598.17L563.12 1597.54L570.06 1596.89L577.01 1596.23L583.95 1595.56L590.89 1594.88L597.83 1594.19L604.78 1593.49L611.72 1592.78L618.66 1592.06L625.61 1591.33L632.55 1590.59L639.49 1589.84L646.43 1589.09L653.38 1588.32L660.32 1587.55L667.26 1586.77L674.21 1585.98L681.15 1585.19L688.09 1584.39L695.04 1583.59L701.98 1582.77L708.92 1581.96L715.86 1581.13L722.81 1580.31L729.75 1579.47L736.69 1578.63L743.64 1577.79L750.58 1576.95L757.52 1576.09L764.46 1575.24L771.41 1574.38L778.35 1573.52L785.29 1572.65L792.24 1571.78L799.18 1570.91L806.12 1570.04L813.06 1569.16L820.01 1568.28L826.95 1567.4L833.89 1566.51L840.84 1565.62L847.78 1564.73L854.72 1563.84L861.67 1562.94L868.61 1562.04L875.55 1561.15L882.49 1560.24L889.44 1559.34L896.38 1558.44L903.32 1557.53L910.27 1556.62L917.21 1555.71L924.15 1554.8" stroke="#3c3c3c" stroke-width="3.3" stroke-dasharray="24.0 14.17" fill="none"/>
<path d="M122.89 1674L125.71 1673.63L132.66 1672.73L139.6 1671.84L146.54 1670.94L153.49 1670.05L160.43 1669.16L167.37 1668.27L174.32 1667.38L181.26 1666.5L188.2 1665.62L195.14 1664.74L202.09 1663.87L209.03 1662.99L215.97 1662.12L222.92 1661.26L229.86 1660.4L236.8 1659.54L243.74 1658.68L250.69 1657.83L257.63 1656.98L264.57 1656.14L271.52 1655.3L278.46 1654.47L285.4 1653.64L292.35 1652.82L299.29 1652L306.23 1651.19L313.17 1650.38L320.12 1649.58L327.06 1648.79L334 1648L340.95 1647.22L347.89 1646.45L354.83 1645.69L361.77 1644.93L368.72 1644.18L375.66 1643.44L382.6 1642.71L389.55 1641.99L396.49 1641.28L403.43 1640.58L410.37 1639.89L417.32 1639.21L424.26 1638.54L431.2 1637.88L438.15 1637.24L445.09 1636.6L452.03 1635.98L458.98 1635.37L465.92 1634.77L472.86 1634.19L479.8 1633.62L486.75 1633.06L493.69 1632.52L500.63 1631.99L507.58 1631.47L514.52 1630.96L521.46 1630.47L528.4 1629.99L535.35 1629.53L542.29 1629.08L549.23 1628.64L556.18 1628.21L563.12 1627.8L570.06 1627.39L577.01 1627L583.95 1626.62L590.89 1626.25L597.83 1625.9L604.78 1625.55L611.72 1625.21L618.66 1624.88L625.61 1624.56L632.55 1624.26L639.49 1623.95L646.43 1623.66L653.38 1623.38L660.32 1623.1L667.26 1622.83L674.21 1622.57L681.15 1622.32L688.09 1622.07L695.04 1621.82L701.98 1621.59L708.92 1621.36L715.86 1621.13L722.81 1620.91L729.75 1620.7L736.69 1620.48L743.64 1620.28L750.58 1620.08L757.52 1619.88L764.46 1619.69L771.41 1619.5L778.35 1619.31L785.29 1619.13L792.24 1618.95L799.18 1618.77L806.12 1618.6L813.06 1618.43L820.01 1618.26L826.95 1618.09L833.89 1617.93L840.84 1617.77L847.78 1617.61L854.72 1617.46L861.67 1617.3L868.61 1617.15L875.55 1617L882.49 1616.86L889.44 1616.71L896.38 1616.57L903.32 1616.43L910.27 1616.29L917.21 1616.15L924.15 1616.01" stroke="#3c3c3c" stroke-width="3.3" stroke-dasharray="24.0 14.17" fill="none"/>
<circle cx="106.66" cy="1625.93" r="9.8" fill="#3c3c3c"/>
<circle cx="102.47" cy="1642.61" r="9.8" fill="#3c3c3c"/>
<circle cx="102.47" cy="1651.17" r="9.8" fill="#3c3c3c"/>
<circle cx="143.53" cy="1633.59" r="9.8" fill="#3c3c3c"/>
<circle cx="143.53" cy="1657.48" r="9.8" fill="#3c3c3c"/>
<circle cx="185.7" cy="1646.21" r="9.8" fill="#3c3c3c"/>
<circle cx="185.7" cy="1659.28" r="9.8" fill="#3c3c3c"/>
<circle cx="278.71" cy="1648.91" r="9.8" fill="#3c3c3c"/>
<circle cx="276.2" cy="1656.12" r="9.8" fill="#3c3c3c"/>
<circle cx="331.78" cy="1627.28" r="9.8" fill="#3c3c3c"/>
<circle cx="343.51" cy="1642.61" r="9.8" fill="#3c3c3c"/>
<circle cx="331.78" cy="1651.17" r="9.8" fill="#3c3c3c"/>
<circle cx="343.51" cy="1665.14" r="9.8" fill="#3c3c3c"/>
<circle cx="363.9" cy="1653.42" r="9.8" fill="#3c3c3c"/>
<circle cx="395.18" cy="1623.68" r="9.8" fill="#3c3c3c"/>
<circle cx="393.22" cy="1631.34" r="9.8" fill="#3c3c3c"/>
<circle cx="388.2" cy="1641.25" r="9.8" fill="#3c3c3c"/>
<circle cx="442.94" cy="1547.97" r="9.8" fill="#3c3c3c"/>
<circle cx="442.94" cy="1632.24" r="9.8" fill="#3c3c3c"/>
<circle cx="442.94" cy="1642.61" r="9.8" fill="#3c3c3c"/>
<circle cx="524.49" cy="1638.55" r="9.8" fill="#3c3c3c"/>
<circle cx="524.49" cy="1649.82" r="9.8" fill="#3c3c3c"/>
<circle cx="552.98" cy="1484.44" r="9.8" fill="#3c3c3c"/>
<circle cx="552.98" cy="1493.9" r="9.8" fill="#3c3c3c"/>
<circle cx="604.37" cy="1568.7" r="9.8" fill="#3c3c3c"/>
<circle cx="604.37" cy="1620.98" r="9.8" fill="#3c3c3c"/>
<circle cx="619.46" cy="1653.87" r="9.8" fill="#3c3c3c"/>
<circle cx="619.46" cy="1666.49" r="9.8" fill="#3c3c3c"/>
<circle cx="644.03" cy="1523.64" r="9.8" fill="#3c3c3c"/>
<circle cx="644.03" cy="1591.68" r="9.8" fill="#3c3c3c"/>
<circle cx="658.28" cy="1621.65" r="9.8" fill="#3c3c3c"/>
<circle cx="658.28" cy="1655.22" r="9.8" fill="#3c3c3c"/>
<circle cx="679.79" cy="1486.69" r="9.8" fill="#3c3c3c"/>
<circle cx="680.9" cy="1629.99" r="9.8" fill="#3c3c3c"/>
<circle cx="680.9" cy="1646.21" r="9.8" fill="#3c3c3c"/>
<circle cx="766.37" cy="1401.07" r="9.8" fill="#3c3c3c"/>
<circle cx="780.89" cy="1448.39" r="9.8" fill="#3c3c3c"/>
<circle cx="796.81" cy="1497.5" r="9.8" fill="#3c3c3c"/>
<circle cx="791.78" cy="1597.09" r="9.8" fill="#3c3c3c"/>
<circle cx="851" cy="1609.71" r="9.8" fill="#3c3c3c"/>
<circle cx="760.5" cy="1633.59" r="9.8" fill="#3c3c3c"/>
<circle cx="791.78" cy="1638.1" r="9.8" fill="#3c3c3c"/>
<circle cx="782.01" cy="1642.61" r="9.8" fill="#3c3c3c"/>
<circle cx="796.81" cy="1644.86" r="9.8" fill="#3c3c3c"/>
<circle cx="766.37" cy="1652.97" r="9.8" fill="#3c3c3c"/>
<circle cx="760.5" cy="1660.63" r="9.8" fill="#3c3c3c"/>
<circle cx="782.01" cy="1660.63" r="9.8" fill="#3c3c3c"/>
<circle cx="924.45" cy="1633.59" r="9.8" fill="#3c3c3c"/>
<circle cx="924.45" cy="1652.97" r="9.8" fill="#3c3c3c"/>
</svg></div></body></html>
